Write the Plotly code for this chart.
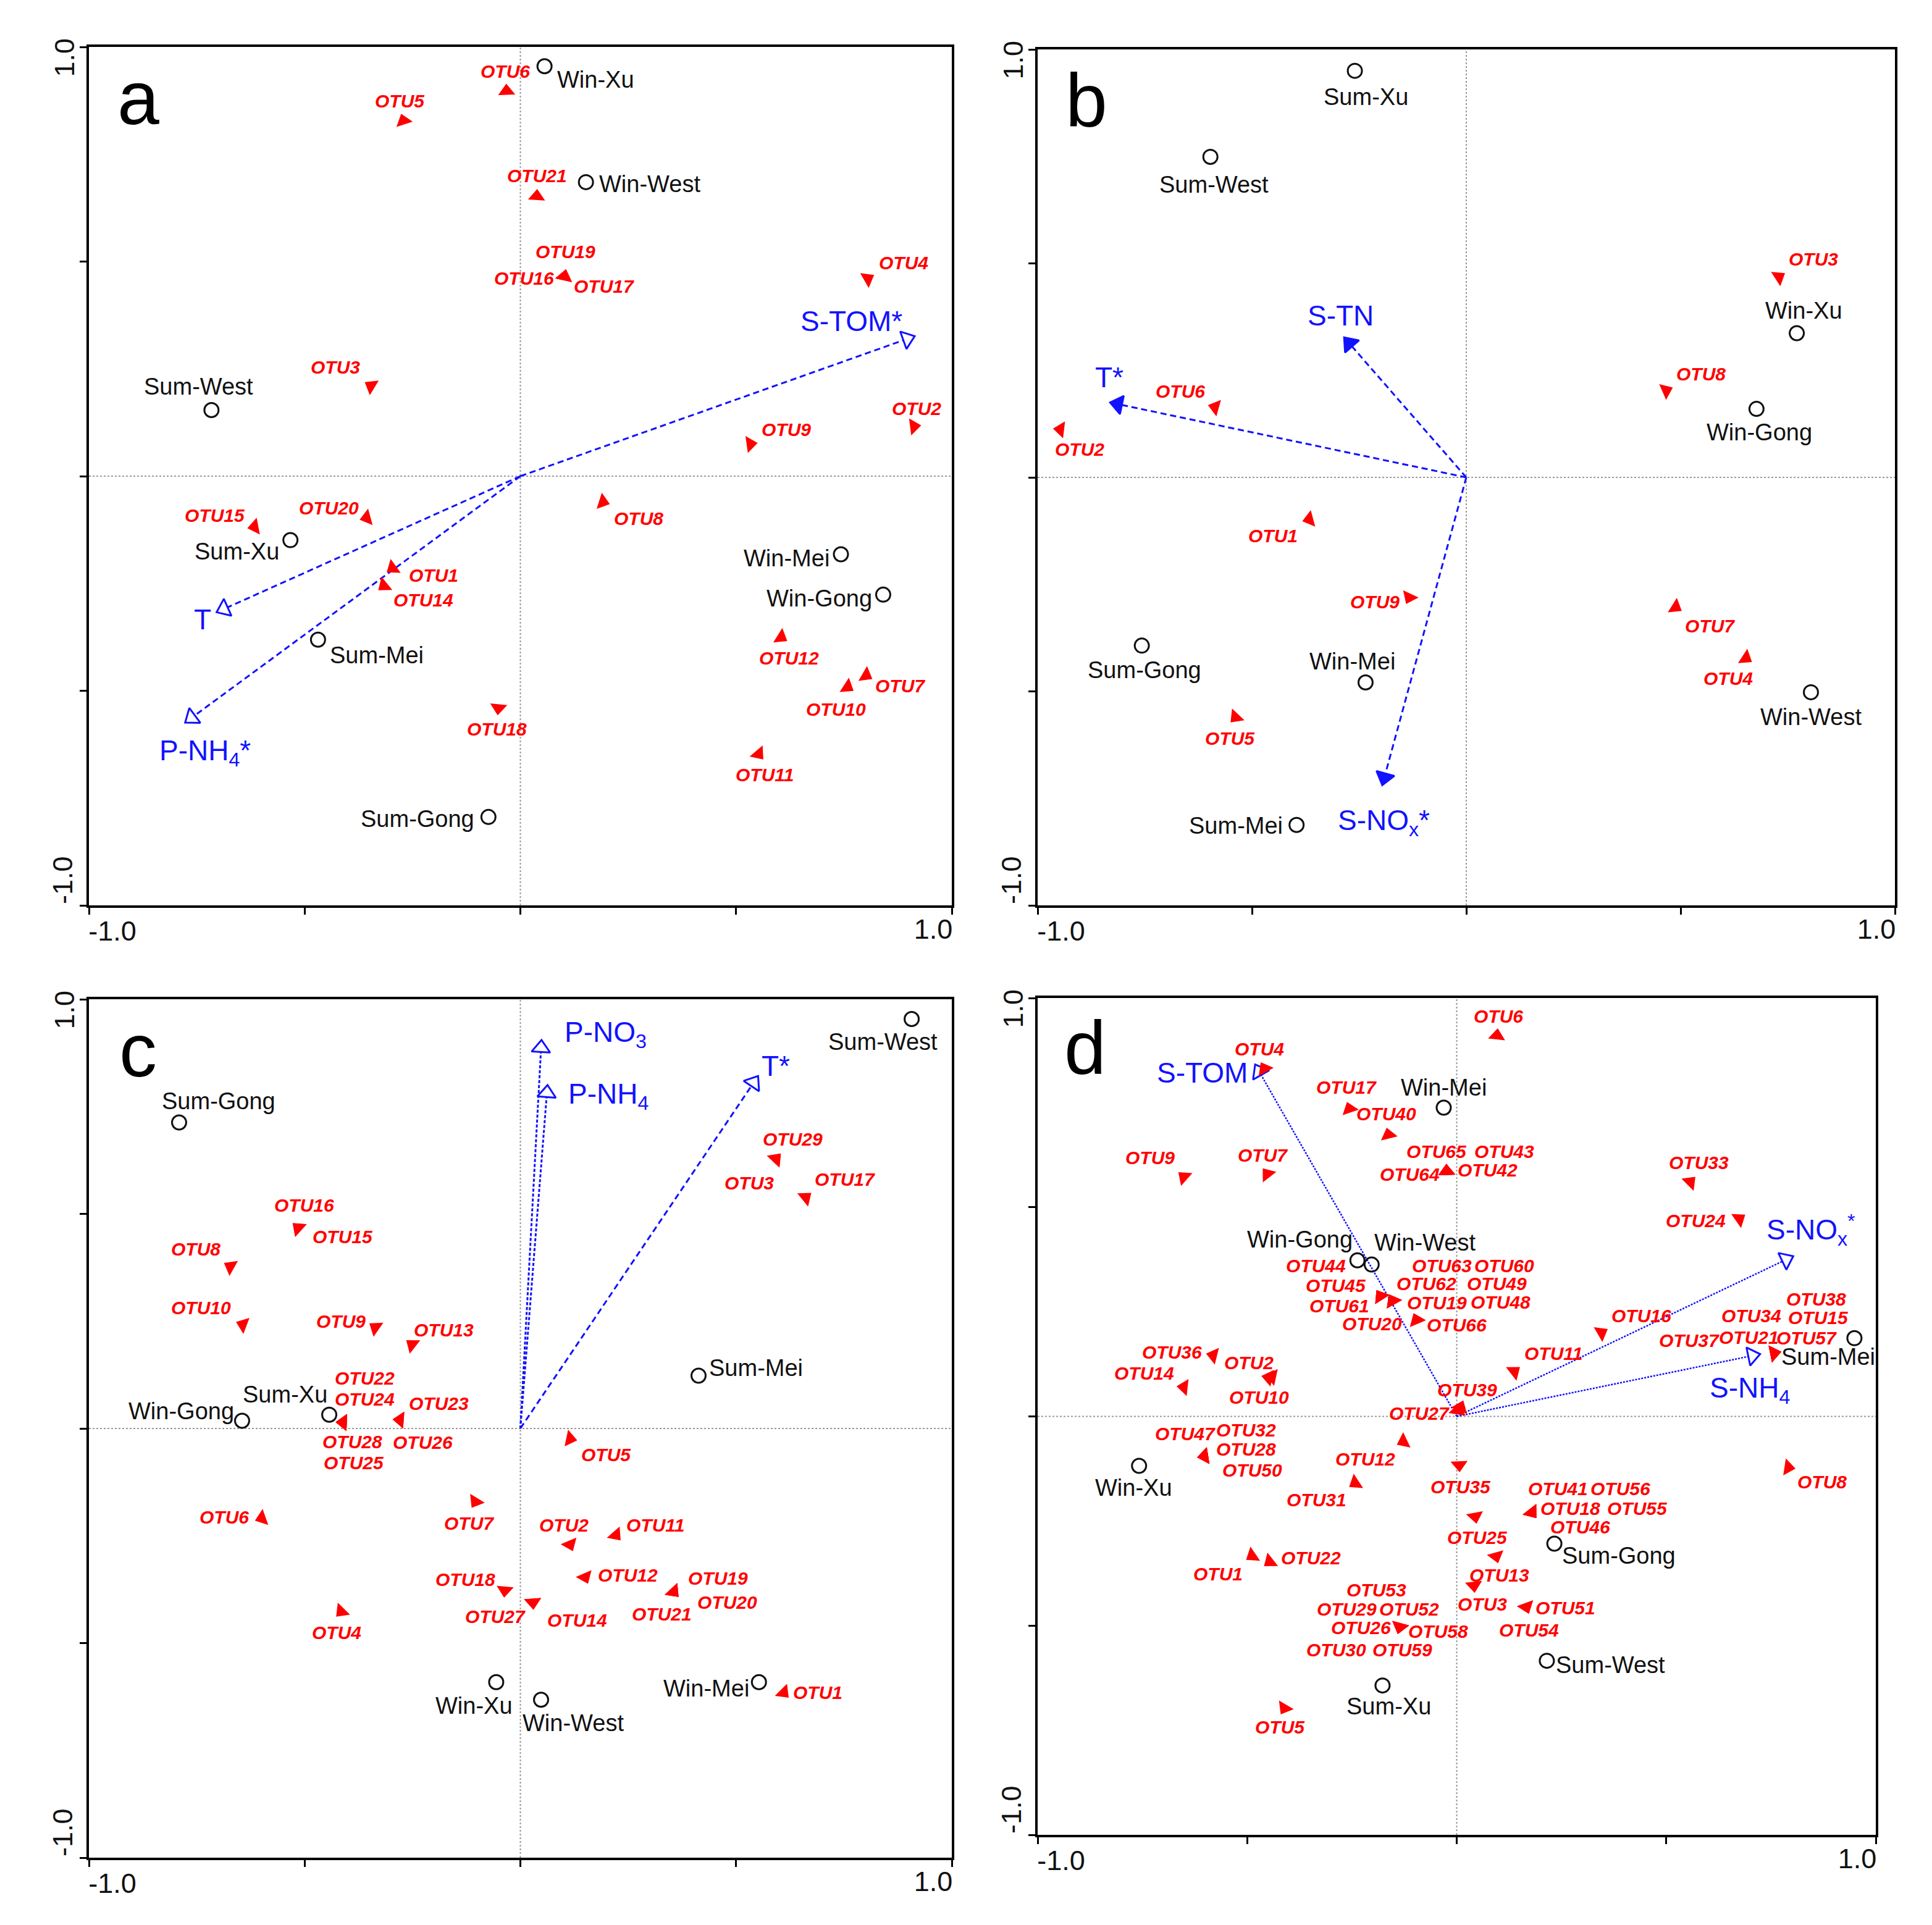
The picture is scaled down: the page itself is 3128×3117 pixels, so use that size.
import math
import plotly.graph_objects as go

W, H = 3128, 3117

# ================= DATA =================
# ---- panel a ----
A_SITES = ["Win-Xu", "Win-West", "Sum-West", "Sum-Xu", "Sum-Mei", "Sum-Gong", "Win-Mei", "Win-Gong"]
A_SITE_X = [0.056, 0.152, -0.716, -0.533, -0.469, -0.074, 0.743, 0.841]
A_SITE_Y = [0.955, 0.685, 0.154, -0.149, -0.381, -0.794, -0.182, -0.276]
A_OTUS = ["OTU6", "OTU5", "OTU21", "OTU19", "OTU16", "OTU17", "OTU4", "OTU3", "OTU2", "OTU9",
          "OTU8", "OTU15", "OTU20", "OTU1", "OTU14", "OTU12", "OTU7", "OTU10", "OTU18", "OTU11"]
A_OTU_X = [-0.032, -0.271, 0.038, 0.102, 0.102, 0.102, 0.805, -0.346, 0.912, 0.533,
           0.191, -0.616, -0.356, -0.296, -0.316, 0.604, 0.801, 0.758, -0.051, 0.552]
A_OTU_Y = [0.897, 0.828, 0.652, 0.465, 0.465, 0.465, 0.460, 0.210, 0.116, 0.075,
           -0.060, -0.118, -0.097, -0.214, -0.255, -0.375, -0.464, -0.491, -0.540, -0.647]
A_ENV = ["S-TOM*", "T", "P-NH<sub>4</sub>*"]
A_ENV_X = [0.914, -0.704, -0.777]
A_ENV_Y = [0.326, -0.317, -0.574]

# ---- panel b ----
B_SITES = ["Sum-Xu", "Sum-West", "Win-Xu", "Win-Gong", "Sum-Gong", "Win-Mei", "Win-West", "Sum-Mei"]
B_SITE_X = [-0.260, -0.597, 0.771, 0.677, -0.757, -0.235, 0.804, -0.396]
B_SITE_Y = [0.950, 0.749, 0.337, 0.160, -0.393, -0.479, -0.502, -0.812]
B_OTUS = ["OTU3", "OTU8", "OTU6", "OTU2", "OTU1", "OTU9", "OTU7", "OTU4", "OTU5"]
B_OTU_X = [0.729, 0.466, -0.586, -0.947, -0.366, -0.133, 0.488, 0.652, -0.538]
B_OTU_Y = [0.468, 0.203, 0.164, 0.112, -0.098, -0.280, -0.303, -0.422, -0.560]
B_ENV = ["S-TN", "T*", "S-NO<sub>x</sub>*"]
B_ENV_X = [-0.285, -0.831, -0.196]
B_ENV_Y = [0.327, 0.175, -0.719]

# ---- panel c ----
C_SITES = ["Sum-West", "Sum-Gong", "Sum-Mei", "Win-Gong", "Sum-Xu", "Win-Xu", "Win-West", "Win-Mei"]
C_SITE_X = [0.907, -0.791, 0.413, -0.645, -0.443, -0.056, 0.048, 0.553]
C_SITE_Y = [0.954, 0.713, 0.123, 0.018, 0.032, -0.591, -0.632, -0.591]
C_OTUS = ["OTU29", "OTU3", "OTU17", "OTU16", "OTU15", "OTU8", "OTU10", "OTU9", "OTU13", "OTU22",
          "OTU24", "OTU28", "OTU25", "OTU23", "OTU26", "OTU5", "OTU6", "OTU7", "OTU2", "OTU11",
          "OTU12", "OTU19", "OTU20", "OTU21", "OTU18", "OTU27", "OTU14", "OTU4", "OTU1"]
C_OTU_X = [0.592, 0.592, 0.661, -0.515, -0.515, -0.672, -0.643, -0.336, -0.251, -0.411,
           -0.411, -0.411, -0.411, -0.279, -0.279, 0.115, -0.599, -0.104, 0.115, 0.221,
           0.150, 0.355, 0.355, 0.355, -0.036, 0.029, 0.029, -0.415, 0.610]
C_OTU_Y = [0.628, 0.628, 0.538, 0.467, 0.467, 0.377, 0.242, 0.235, 0.195, 0.014,
           0.014, 0.014, 0.014, 0.020, 0.020, -0.024, -0.209, -0.170, -0.270, -0.248,
           -0.346, -0.380, -0.380, -0.380, -0.377, -0.405, -0.405, -0.426, -0.615]
C_ENV = ["P-NO<sub>3</sub>", "P-NH<sub>4</sub>", "T*"]
C_ENV_X = [0.049, 0.063, 0.551]
C_ENV_Y = [0.905, 0.800, 0.821]

# ---- panel d ----
D_SITES = ["Win-Mei", "Win-Gong", "Win-West", "Sum-Mei", "Win-Xu", "Sum-Gong", "Sum-West", "Sum-Xu"]
D_SITE_X = [-0.031, -0.237, -0.203, 0.949, -0.758, 0.233, 0.215, -0.177]
D_SITE_Y = [0.738, 0.373, 0.363, 0.187, -0.118, -0.304, -0.584, -0.643]
D_OTUS = ["OTU6", "OTU4", "OTU17", "OTU40", "OTU9", "OTU7", "OTU65", "OTU43", "OTU64", "OTU42",
          "OTU33", "OTU24", "OTU44", "OTU45", "OTU61", "OTU63", "OTU60", "OTU62", "OTU49", "OTU19",
          "OTU48", "OTU20", "OTU66", "OTU16", "OTU38", "OTU15", "OTU34", "OTU37", "OTU21", "OTU57",
          "OTU11", "OTU36", "OTU2", "OTU10", "OTU14", "OTU39", "OTU27", "OTU47", "OTU32", "OTU28",
          "OTU50", "OTU12", "OTU31", "OTU35", "OTU41", "OTU56", "OTU18", "OTU55", "OTU46", "OTU8",
          "OTU25", "OTU13", "OTU3", "OTU51", "OTU54", "OTU1", "OTU22", "OTU53", "OTU29", "OTU52",
          "OTU26", "OTU58", "OTU30", "OTU59", "OTU5"]
D_OTU_X = [0.096, -0.459, -0.256, -0.163, -0.651, -0.452, -0.024, -0.024, -0.024, -0.024,
           0.557, 0.674, -0.182, -0.182, -0.182, -0.153, -0.153, -0.153, -0.153, -0.153,
           -0.153, -0.096, -0.096, 0.345, 0.757, 0.757, 0.757, 0.757, 0.757, 0.757,
           0.137, -0.581, -0.449, -0.440, -0.651, 0.009, 0.002, -0.602, -0.602, -0.602,
           -0.602, -0.127, -0.242, 0.006, 0.179, 0.179, 0.179, 0.179, 0.179, 0.791,
           0.044, 0.094, 0.041, 0.166, 0.166, -0.488, -0.446, -0.136, -0.136, -0.136,
           -0.136, -0.136, -0.136, -0.136, -0.411]
D_OTU_Y = [0.910, 0.831, 0.735, 0.673, 0.572, 0.579, 0.586, 0.586, 0.586, 0.586,
           0.560, 0.472, 0.287, 0.287, 0.287, 0.276, 0.276, 0.276, 0.276, 0.276,
           0.276, 0.230, 0.230, 0.200, 0.151, 0.151, 0.151, 0.151, 0.151, 0.151,
           0.107, 0.146, 0.093, 0.095, 0.070, 0.022, 0.014, -0.095, -0.095, -0.095,
           -0.095, -0.060, -0.159, -0.116, -0.229, -0.229, -0.229, -0.229, -0.229, -0.122,
           -0.239, -0.334, -0.404, -0.455, -0.455, -0.333, -0.347, -0.503, -0.503, -0.503,
           -0.503, -0.503, -0.503, -0.503, -0.697]
D_ENV = ["S-TOM", "S-NO<sub>x</sub><sup>*</sup>", "S-NH<sub>4</sub>"]
D_ENV_X = [-0.481, 0.803, 0.724]
D_ENV_Y = [0.841, 0.383, 0.149]

LOW_TICK, LOW_TICK_TEXT = -1.0, "-1.0"
HIGH_TICK, HIGH_TICK_TEXT = 1.0, "1.0"
MINOR_TICKS = [-0.5, 0.0, 0.5, 1.0]
PANEL_LETTERS = ["a", "b", "c", "d"]

# ================= LAYOUT / STYLE (label offsets in pixels: dx right, dy up) =================
A_SITE_OFF = [(85, -22), (107, -3), (-22, 39), (-89, -19), (98, -26), (-118, -3), (-91, -7), (-107, -6)]
A_OTU_OFF = [(-2, 33), (-6, 33), (0, 34), (2, 42), (-67, -3), (66, -16), (60, 27), (-60, 31), (5, 30), (60, 24),
             (60, -28), (-66, 19), (-63, 16), (68, -12), (66, -24), (13, -35), (57, -18), (-19, -37), (-2, -35), (10, -35)]
A_ENV_OFF = [(-106, 25), (-23, -12), (33, -50)]

B_SITE_OFF = [(19, -44), (6, -46), (12, 38), (5, -39), (4, -41), (-22, 35), (0, -41), (-101, -1)]
B_OTU_OFF = [(58, 30), (58, 28), (-58, 27), (32, -33), (-61, -27), (-57, -8), (58, -31), (-29, -34), (-9, -35)]
B_ENV_OFF = [(-6, 36), (-1, 42), (3, -62)]

C_SITE_OFF = [(-48, -38), (66, 36), (96, 13), (-102, 16), (-74, 34), (-37, -39), (54, -39), (-88, -11)]
C_OTU_OFF = [(28, 33), (-44, -40), (66, 30), (10, 38), (74, -15), (-58, 29), (-70, 28), (-58, 10), (53, 25), (36, 74),
             (36, 39), (16, -32), (18, -67), (65, 27), (38, -38), (60, -27), (-63, 2), (-11, -36), (-10, 32), (66, 16),
             (71, 3), (74, 22), (90, -18), (-20, -38), (-66, 18), (-63, -24), (74, -30), (-8, -35), (57, 0)]
C_ENV_OFF = [(107, 10), (102, -18), (29, 17)]

D_SITE_OFF = [(0, 34), (-96, 35), (89, 37), (-44, -31), (-9, -37), (108, -20), (106, -7), (10, -35)]
D_OTU_OFF = [(2, 32), (-8, 33), (-5, 36), (-3, 35), (-56, 32), (-8, 32), (-17, 33), (96, 33), (-62, -5), (68, 2),
             (14, 33), (-73, -3), (-108, 51), (-74, 18), (-69, -16), (82, 59), (186, 59), (57, 29), (174, 29), (74, -3),
             (180, -2), (-74, -6), (67, -8), (67, 28), (70, 90), (74, 60), (-38, 63), (-141, 21), (-42, 26), (54, 25),
             (65, 30), (-69, 5), (-33, 25), (-22, -34), (-66, 23), (11, 29), (-64, -5), (-32, 38), (70, 44), (70, 12),
             (80, -23), (-64, -29), (-65, -28), (2, -36), (44, 39), (148, 39), (64, 6), (176, 6), (81, -25), (57, -24),
             (4, -35), (5, -32), (14, -31), (65, -2), (5, -39), (-57, -30), (69, 6), (-39, 62), (-88, 30), (16, 30),
             (-65, -1), (64, -7), (-106, -38), (4, -38), (-7, -32)]
D_ENV_OFF = [(-88, -14), (30, 44), (-17, -60)]

# panel boxes in page pixels (left, right, top, bottom); page body adds an 8px margin
PAGE_OFFSET = 8
BOXES = [(144, 1541, 76, 1466), (1680, 3068, 80, 1466), (144, 1541, 1618, 3008), (1680, 3037, 1616, 2971)]

RED = "#ff0000"
BLUE = "#1212ff"
BLACK = "#111111"
FONT = "Arial, Liberation Sans, sans-serif"
OFF_SCALE = 0.97

PANELS = [
    dict(sites=A_SITES, sx=A_SITE_X, sy=A_SITE_Y, soff=A_SITE_OFF,
         otus=A_OTUS, ox=A_OTU_X, oy=A_OTU_Y, ooff=A_OTU_OFF,
         env=A_ENV, ex=A_ENV_X, ey=A_ENV_Y, eoff=A_ENV_OFF,
         head="triangle-up-open", dash=["10px,6px"] * 3, lw=3),
    dict(sites=B_SITES, sx=B_SITE_X, sy=B_SITE_Y, soff=B_SITE_OFF,
         otus=B_OTUS, ox=B_OTU_X, oy=B_OTU_Y, ooff=B_OTU_OFF,
         env=B_ENV, ex=B_ENV_X, ey=B_ENV_Y, eoff=B_ENV_OFF,
         head="triangle-up", dash=["10px,6px"] * 3, lw=3),
    dict(sites=C_SITES, sx=C_SITE_X, sy=C_SITE_Y, soff=C_SITE_OFF,
         otus=C_OTUS, ox=C_OTU_X, oy=C_OTU_Y, ooff=C_OTU_OFF,
         env=C_ENV, ex=C_ENV_X, ey=C_ENV_Y, eoff=C_ENV_OFF,
         head="triangle-up-open", dash=["5px,3px", "5px,3px", "10px,6px"], lw=3),
    dict(sites=D_SITES, sx=D_SITE_X, sy=D_SITE_Y, soff=D_SITE_OFF,
         otus=D_OTUS, ox=D_OTU_X, oy=D_OTU_Y, ooff=D_OTU_OFF,
         env=D_ENV, ex=D_ENV_X, ey=D_ENV_Y, eoff=D_ENV_OFF,
         head="triangle-up-open", dash=["3px,2px"] * 3, lw=2.5),
]

OTU_SIZE = 24
HEAD_SIZE = 26
TICKFONT = dict(family=FONT, size=45, color=BLACK)


def bearing(x, y):
    return math.degrees(math.atan2(x, y))


fig = go.Figure()
annotations = []
shapes = []
layout_axes = {}

for i, (p, box, letter) in enumerate(zip(PANELS, BOXES, PANEL_LETTERS)):
    n = "" if i == 0 else str(i + 1)
    no = str(i + 5)  # overlay axes carrying the upper "1.0" label
    xa, ya = "x" + n, "y" + n
    xo, yo = "x" + no, "y" + no
    left, right, top, bottom = [v - PAGE_OFFSET for v in box]
    common = dict(
        range=[-1, 1], automargin=False,
        showline=True, mirror=True, linecolor="black", linewidth=4,
        ticks="outside", ticklen=11, tickwidth=3, tickcolor="black",
        tickmode="array", tickvals=[LOW_TICK], ticktext=[LOW_TICK_TEXT],
        minor=dict(tickmode="array", tickvals=MINOR_TICKS, ticks="outside",
                   ticklen=11, tickwidth=3, tickcolor="black", showgrid=False),
        tickfont=TICKFONT, showgrid=False, zeroline=False, fixedrange=True)
    over = dict(
        range=[-1, 1], automargin=False, showline=False,
        ticks="outside", ticklen=11, tickwidth=3, tickcolor="rgba(0,0,0,0)",
        tickmode="array", tickvals=[HIGH_TICK], ticktext=[HIGH_TICK_TEXT],
        tickfont=TICKFONT, showgrid=False, zeroline=False, fixedrange=True)
    layout_axes["xaxis" + n] = dict(domain=[left / W, right / W], anchor=ya,
                                    ticklabelstandoff=-12, ticklabelshift=38, **common)
    layout_axes["yaxis" + n] = dict(domain=[1 - bottom / H, 1 - top / H], anchor=xa,
                                    tickangle=-90, ticklabelstandoff=-6, ticklabelshift=-34, **common)
    layout_axes["xaxis" + no] = dict(overlaying=xa, anchor=ya, side="bottom",
                                     ticklabelstandoff=-12, ticklabelshift=-30, **over)
    layout_axes["yaxis" + no] = dict(overlaying=ya, anchor=xa, side="left", tickangle=-90,
                                     ticklabelstandoff=-6, ticklabelshift=24, **over)
    fig.add_trace(go.Scatter(x=[], y=[], xaxis=xo, yaxis=ya, showlegend=False, hoverinfo="skip"))
    fig.add_trace(go.Scatter(x=[], y=[], xaxis=xa, yaxis=yo, showlegend=False, hoverinfo="skip"))

    # dotted cross-hair
    for (x0, y0, x1, y1) in [(0, -1, 0, 1), (-1, 0, 1, 0)]:
        shapes.append(dict(type="line", xref=xa, yref=ya, x0=x0, y0=y0, x1=x1, y1=y1,
                           line=dict(color="#9a9a9a", width=2, dash="dot"), layer="below"))

    # environmental arrows: tip of the head sits on the variable's score
    px_per_unit = (right - left) / 2.0
    hx, hy = [], []
    for j, (ex, ey) in enumerate(zip(p["ex"], p["ey"])):
        length_px = math.hypot(ex, ey) * px_per_unit
        f_line = max(0.0, 1 - 0.75 * HEAD_SIZE / length_px)
        f_head = max(0.0, 1 - 0.5 * HEAD_SIZE / length_px)
        hx.append(ex * f_head)
        hy.append(ey * f_head)
        fig.add_trace(go.Scatter(x=[0, ex * f_line], y=[0, ey * f_line], mode="lines", xaxis=xa, yaxis=ya,
                                 line=dict(color=BLUE, width=p["lw"], dash=p["dash"][j]),
                                 hoverinfo="skip", showlegend=False))
    fig.add_trace(go.Scatter(
        x=hx, y=hy, mode="markers", xaxis=xa, yaxis=ya, showlegend=False, hoverinfo="skip",
        marker=dict(symbol=p["head"], size=HEAD_SIZE, color=BLUE,
                    angle=[bearing(x, y) for x, y in zip(p["ex"], p["ey"])],
                    line=dict(color=BLUE, width=3))))

    # OTU (species) arrowheads
    fig.add_trace(go.Scatter(
        x=p["ox"], y=p["oy"], mode="markers", xaxis=xa, yaxis=ya, showlegend=False,
        text=p["otus"], hoverinfo="text",
        marker=dict(symbol="triangle-up", size=OTU_SIZE, color=RED,
                    angle=[bearing(x, y) for x, y in zip(p["ox"], p["oy"])],
                    line=dict(color=RED, width=0))))

    # sites
    fig.add_trace(go.Scatter(
        x=p["sx"], y=p["sy"], mode="markers", xaxis=xa, yaxis=ya, showlegend=False,
        text=p["sites"], hoverinfo="text",
        marker=dict(symbol="circle-open", size=23, color=BLACK, line=dict(color=BLACK, width=3))))

    def add_labels(names, xs, ys, offs, font):
        for name, x, y, (dx, dy) in zip(names, xs, ys, offs):
            annotations.append(dict(x=x, y=y, xref=xa, yref=ya, text=name, showarrow=False,
                                    xshift=dx * OFF_SCALE, yshift=dy * OFF_SCALE,
                                    xanchor="center", yanchor="middle", font=font))

    add_labels(p["sites"], p["sx"], p["sy"], p["soff"], dict(family=FONT, size=38, color=BLACK))
    add_labels(p["otus"], p["ox"], p["oy"], p["ooff"],
               dict(family=FONT, size=30, color=RED, weight="bold", style="italic"))
    add_labels(p["env"], p["ex"], p["ey"], p["eoff"], dict(family=FONT, size=46, color=BLUE))

    annotations.append(dict(x=0.057, y=0.94, xref=xa + " domain", yref=ya + " domain",
                            text=letter, showarrow=False, xanchor="center", yanchor="middle",
                            font=dict(family=FONT, size=122, color="black")))

fig.update_layout(
    width=W, height=H, margin=dict(l=0, r=0, t=0, b=0, autoexpand=False),
    paper_bgcolor="white", plot_bgcolor="white",
    annotations=annotations, shapes=shapes, **layout_axes)

fig.write_html("out.html")
